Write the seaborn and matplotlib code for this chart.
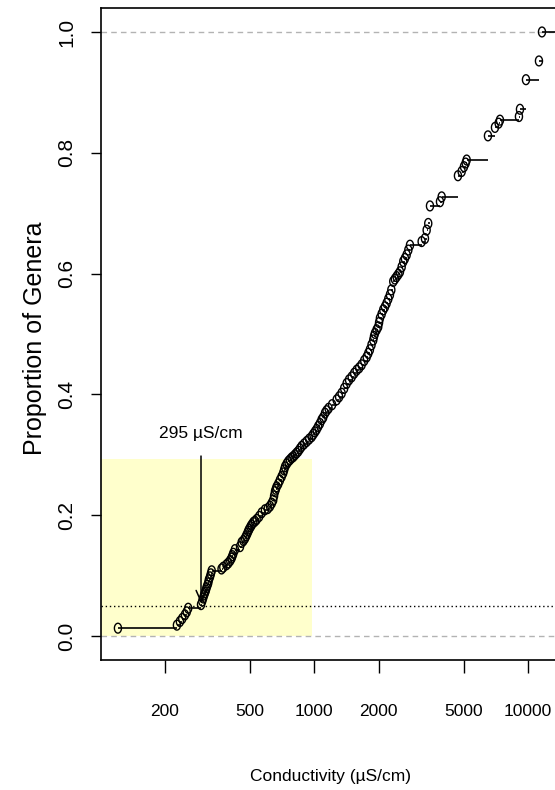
import numpy as np
import pandas as pd
import matplotlib
matplotlib.use("Agg")
import matplotlib.pyplot as plt
from matplotlib.path import Path
import seaborn as sns

# Conductivity (uS/cm) at each step of the cumulative distribution of genera
conductivity = [
    120.6, 227.6, 235, 241, 248, 253, 257, 295, 299, 302, 305, 308, 311, 313,
    316, 319, 321, 325, 328, 331, 368, 375, 388, 396, 404, 410, 414, 418, 425,
    449, 457, 466, 474, 480, 486, 491, 496, 503, 509, 518, 527, 537, 552, 567,
    587, 605, 620, 632, 642, 648, 654, 660, 666, 678, 690, 703, 715, 722, 729,
    742, 755, 769, 783, 797, 811, 826, 841, 856, 872, 895, 920, 945, 971, 988,
    1006, 1024, 1042, 1062, 1081, 1100, 1121, 1140, 1165, 1210, 1271, 1305,
    1341, 1378, 1415, 1452, 1494, 1535, 1576, 1620, 1663, 1710, 1756, 1787,
    1818, 1850, 1885, 1900, 1919, 1955, 1989, 2007, 2025, 2063, 2099, 2138,
    2177, 2216, 2256, 2290, 2338, 2380, 2425, 2470, 2513, 2560, 2604, 2650,
    2701, 2750, 2799, 3174, 3289, 3350, 3408, 3472, 3867, 3938, 4692, 4883,
    5006, 5098, 5154, 6482, 6990, 7273, 7377, 9050, 9151, 9761, 11226, 11597,
]
# Cumulative proportion of genera at each of those conductivities
proportion = [
    0.013, 0.018, 0.024, 0.029, 0.035, 0.040, 0.046, 0.052, 0.058, 0.063,
    0.068, 0.072, 0.076, 0.080, 0.084, 0.088, 0.093, 0.098, 0.103, 0.108,
    0.111, 0.114, 0.118, 0.121, 0.125, 0.129, 0.133, 0.137, 0.143, 0.148,
    0.155, 0.158, 0.162, 0.166, 0.170, 0.174, 0.177, 0.181, 0.184, 0.188,
    0.190, 0.193, 0.198, 0.204, 0.209, 0.211, 0.215, 0.220, 0.225, 0.232,
    0.239, 0.243, 0.247, 0.252, 0.258, 0.264, 0.270, 0.275, 0.280, 0.285,
    0.289, 0.292, 0.295, 0.297, 0.300, 0.303, 0.306, 0.310, 0.314, 0.318,
    0.322, 0.326, 0.330, 0.334, 0.338, 0.342, 0.347, 0.352, 0.358, 0.362,
    0.369, 0.373, 0.377, 0.383, 0.391, 0.396, 0.402, 0.410, 0.418, 0.424,
    0.429, 0.435, 0.440, 0.444, 0.449, 0.456, 0.462, 0.468, 0.474, 0.482,
    0.490, 0.496, 0.501, 0.507, 0.512, 0.519, 0.526, 0.533, 0.540, 0.545,
    0.551, 0.558, 0.565, 0.573, 0.587, 0.591, 0.595, 0.599, 0.603, 0.611,
    0.620, 0.625, 0.631, 0.639, 0.647, 0.653, 0.658, 0.672, 0.683, 0.712,
    0.719, 0.727, 0.762, 0.769, 0.777, 0.783, 0.788, 0.828, 0.842, 0.849,
    0.854, 0.860, 0.872, 0.921, 0.952, 1.000,
]

x_ticks = [200, 500, 1000, 2000, 5000, 10000]
y_ticks = [0.0, 0.2, 0.4, 0.6, 0.8, 1.0]

threshold_cond = 295      # 5th percentile conductivity
threshold_prop = 0.05
band_right = 975          # shaded low-conductivity band
band_top = 0.293

df = pd.DataFrame({"conductivity": conductivity, "proportion": proportion})

sns.set_theme(style="white")
fonts = ["Liberation Sans", "DejaVu Sans"]
plt.rcParams["font.family"] = fonts
for key in ["text.color", "axes.labelcolor", "xtick.color", "ytick.color"]:
    plt.rcParams[key] = "black"

W, H = 555, 790
fig = plt.figure(figsize=(W / 100, H / 100), dpi=100)
left_px, right_px, top_px, bottom_px = 101, 558.8, 7.8, 660.2
ax = fig.add_axes([left_px / W, 1 - bottom_px / H,
                   (right_px - left_px) / W, (bottom_px - top_px) / H])
ax.set_xscale("log")
xmin, xmax = 100.5, 13900
ax.set_xlim(xmin, xmax)
ax.set_ylim(-0.04, 1.04)

# Shaded band
ax.fill_between([xmin, band_right], 0, band_top, color="#FFFFCC", lw=0, zorder=0)

# Reference lines
ax.axhline(0, color="#B3B3B3", lw=1.0, ls=(0, (4, 3)), zorder=1)
ax.axhline(1, color="#B3B3B3", lw=1.0, ls=(0, (4, 3)), zorder=1)
ax.axhline(threshold_prop, color="black", lw=1.0, ls=(0, (1, 2)), zorder=1)

# Step segments of the ECDF
ax.hlines(df["proportion"].iloc[:-1], df["conductivity"].iloc[:-1],
          df["conductivity"].iloc[1:].values, color="black", lw=1.2, zorder=2)
ax.hlines(df["proportion"].iloc[-1], df["conductivity"].iloc[-1], xmax * 2,
          color="black", lw=1.2, zorder=2)

# Open elliptical markers
t = np.linspace(0, 2 * np.pi, 60)
ellipse = Path(np.column_stack([0.72 * np.cos(t), np.sin(t)]), closed=True)
sns.scatterplot(data=df, x="conductivity", y="proportion", marker=ellipse,
                s=50, linewidth=1.0, ax=ax, zorder=3, legend=False)
pts = ax.collections[-1]
pts.set_facecolor("none")
pts.set_edgecolor("black")

# Arrow to the 5th percentile
ax.annotate("", xy=(threshold_cond, threshold_prop + 0.004),
            xytext=(threshold_cond, 0.298),
            arrowprops=dict(arrowstyle="->, head_length=0.5, head_width=0.22",
                            lw=1.1, color="black", mutation_scale=16,
                            shrinkA=0, shrinkB=0))
ax.text(threshold_cond, 0.336, f"{threshold_cond} µS/cm", ha="center",
        va="center", fontsize=12.5)

# Axes styling
for side in ["left", "bottom", "top", "right"]:
    ax.spines[side].set_color("black")
    ax.spines[side].set_linewidth(1.2)

ax.set_xticks(x_ticks)
ax.set_xticklabels([str(v) for v in x_ticks], fontsize=12.5)
ax.xaxis.set_minor_locator(matplotlib.ticker.NullLocator())
ax.set_yticks(y_ticks)
ax.set_yticklabels([f"{v:.1f}" for v in y_ticks], rotation=90, va="center",
                   fontsize=15)
ax.tick_params(axis="x", direction="out", length=9.5, width=1, color="black",
               pad=22, bottom=True)
ax.tick_params(axis="y", direction="out", length=7, width=1, color="black",
               pad=11, left=True)

ax.set_xlabel("Conductivity (µS/cm)", fontsize=12.5)
ax.xaxis.set_label_coords((330 - left_px) / (right_px - left_px),
                          (bottom_px - 777) / (bottom_px - top_px))
ax.xaxis.label.set_va("center")
ax.set_ylabel("Proportion of Genera", fontsize=18)
ax.yaxis.set_label_coords((35 - left_px) / (right_px - left_px),
                          (bottom_px - 338) / (bottom_px - top_px))
ax.yaxis.label.set_va("center")

fig.savefig("out.png", dpi=100)
